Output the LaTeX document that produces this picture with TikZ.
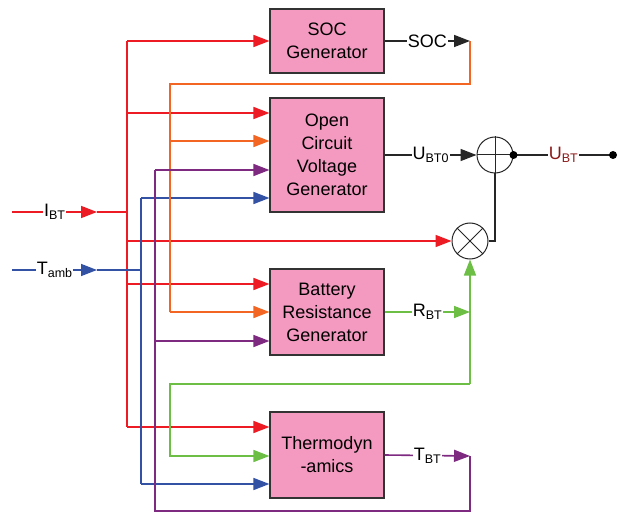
\documentclass[tikz,border=0pt]{standalone}
\usepackage{fontspec}
\setmainfont{Liberation Sans}
\usetikzlibrary{arrows.meta}

\definecolor{pinkfill}{RGB}{244,154,193}
\definecolor{redw}{RGB}{237,28,36}
\definecolor{orngw}{RGB}{242,101,34}
\definecolor{purw}{RGB}{126,42,128}
\definecolor{bluew}{RGB}{52,82,164}
\definecolor{grnw}{RGB}{108,190,69}
\definecolor{darkredw}{RGB}{140,26,26}

\newcommand{\boxfont}{\fontsize{18}{23}\selectfont}
\newcommand{\lowtxt}[1]{\raisebox{-0.35ex}{\fontsize{12.5}{12.5}\selectfont #1}}

\begin{document}
\begin{tikzpicture}[
  x=1pt, y=-1pt,
  blk/.style={rectangle, draw=black!80, fill=pinkfill, line width=1.2pt,
              minimum width=114pt, align=center, font=\boxfont},
  sumop/.style={circle, draw=black!85, fill=white, line width=1pt,
                minimum size=36pt, inner sep=0pt},
  wire/.style={line width=1.6pt},
  tip/.style={-{Triangle[length=16pt,width=12pt]}},
  lbl/.style={fill=white, inner sep=1pt, font=\boxfont}
]
  \useasboundingbox (0,0) rectangle (621,513);

  % blocks
  \node[blk, minimum height=64pt]  (soc)    at (327,41)  {SOC\\Generator};
  \node[blk, minimum height=114pt] (ocv)    at (327,155) {Open\\Circuit\\Voltage\\Generator};
  \node[blk, minimum height=86pt]  (bres)   at (327,312) {Battery\\Resistance\\Generator};
  \node[blk, minimum height=86pt]  (thermo) at (327,455) {Thermodyn\\-amics};
  \node[sumop] (sum)  at (495,155) {};
  \node[sumop] (mult) at (470,241) {};
  \draw[black!85, line width=1pt] (sum.north) -- (sum.south) (sum.west) -- (sum.east);
  \draw[black!85, line width=1pt] (mult.north west) -- (mult.south east)
                                  (mult.north east) -- (mult.south west);

  % bus points
  \coordinate (ibtin)   at (12,212);
  \coordinate (ibtarr)  at (97,212);
  \coordinate (ibtbus)  at (127,212);
  \coordinate (tambin)  at (12,270);
  \coordinate (tambarr) at (97,270);
  \coordinate (tambbus) at (141,270);
  \coordinate (redtop)  at (127,41);
  \coordinate (red2)    at (127,113);
  \coordinate (redmul)  at (127,241);
  \coordinate (red3)    at (127,284);
  \coordinate (redbot)  at (127,427);
  \coordinate (bluetop) at (141,198);
  \coordinate (bluebot) at (141,484);
  \coordinate (purtop)  at (155,170);
  \coordinate (pur2)    at (155,341);
  \coordinate (purbot)  at (155,511);
  \coordinate (orgtop)  at (170,84);
  \coordinate (org2)    at (170,141);
  \coordinate (orgbot)  at (170,312);
  \coordinate (grnbot)  at (170,456);
  \coordinate (socend)  at (470,41);
  \coordinate (rbtend)  at (470,312);
  \coordinate (grnjoin) at (470,384);
  \coordinate (tbtend)  at (470,456);
  \coordinate (ubtout)  at (613,155);

  % current I_BT
  \draw[wire, redw, tip] (ibtin) -- node[lbl, text=black]{I\lowtxt{BT}} (ibtarr);
  \draw[wire, redw] (ibtarr) -- (ibtbus);
  \draw[wire, redw] (redtop) -- (redbot);
  \draw[wire, redw, tip] (redtop) -- (soc.west);
  \draw[wire, redw, tip] (red2) -- (red2 -| ocv.west);
  \draw[wire, redw, tip] (redmul) -- (mult.west);
  \draw[wire, redw, tip] (red3) -- (red3 -| bres.west);
  \draw[wire, redw, tip] (redbot) -- (redbot -| thermo.west);

  % ambient temperature
  \draw[wire, bluew, tip] (tambin) -- node[lbl, text=black]{T\lowtxt{amb}} (tambarr);
  \draw[wire, bluew] (tambarr) -- (tambbus);
  \draw[wire, bluew] (bluetop) -- (bluebot);
  \draw[wire, bluew, tip] (bluetop) -- (bluetop -| ocv.west);
  \draw[wire, bluew, tip] (bluebot) -- (bluebot -| thermo.west);

  % SOC feedback
  \draw[wire, black!85, tip] (soc.east) -- node[lbl, text=black]{SOC} (socend);
  \draw[wire, orngw] (socend) |- (orgtop) -- (orgbot);
  \draw[wire, orngw, tip] (org2) -- (org2 -| ocv.west);
  \draw[wire, orngw, tip] (orgbot) -- (orgbot -| bres.west);

  % battery temperature feedback
  \draw[wire, purw, tip] (thermo.east) -- node[lbl, text=black]{T\lowtxt{BT}} (tbtend);
  \draw[wire, purw] (tbtend) |- (purbot) -- (purtop);
  \draw[wire, purw, tip] (purtop) -- (purtop -| ocv.west);
  \draw[wire, purw, tip] (pur2) -- (pur2 -| bres.west);

  % resistance
  \draw[wire, grnw, tip] (bres.east) -- node[lbl, text=black]{R\lowtxt{BT}} (rbtend);
  \draw[wire, grnw, tip] (grnjoin) -- (mult.south);
  \draw[wire, grnw, tip] (grnjoin) -| (grnbot) -- (grnbot -| thermo.west);

  % voltage output
  \draw[wire, black!85, tip] (ocv.east) -- node[lbl, text=black]{U\lowtxt{BT0}} (sum.west);
  \draw[wire, black!85] (mult.east) -| (sum.south);
  \draw[wire, black!85] (sum.east) -- node[lbl, text=darkredw]{U\lowtxt{BT}} (ubtout);
  \fill[black] (sum.east) circle (4pt);
  \fill[black] (ubtout) circle (4pt);
\end{tikzpicture}
\end{document}
